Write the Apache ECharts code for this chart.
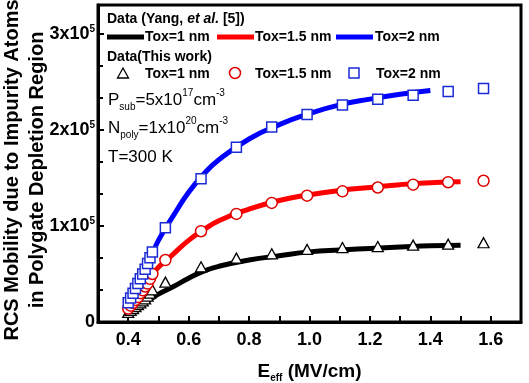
<!DOCTYPE html>
<html><head><meta charset="utf-8">
<script src="https://cdn.jsdelivr.net/npm/echarts@6/dist/echarts.min.js"></script>
<style>html,body{margin:0;padding:0;background:#fff}#c{width:529px;height:383px}</style>
</head><body><div id="c"></div>
<script>
// Model curves (Yang et al. [5])
var modelE = [0.40,0.42,0.44,0.46,0.48,0.50,0.55,0.60,0.65,0.70,0.80,0.90,1.00,1.10,1.20,1.30,1.40,1.50];
var yangTox1  = [0.07,0.12,0.17,0.21,0.25,0.29,0.37,0.455,0.53,0.58,0.645,0.69,0.73,0.75,0.765,0.78,0.795,0.80];
var yangTox15 = [0.12,0.22,0.31,0.40,0.49,0.57,0.71,0.85,0.96,1.055,1.175,1.265,1.325,1.37,1.40,1.43,1.45,1.46];
var yangTox2  = [0.15,0.30,0.44,0.58,0.71,0.85,1.11,1.35,1.54,1.69,1.905,2.055,2.17,2.26,2.32,2.37,2.41,null];
// This work
var workE = [0.400,0.408,0.416,0.424,0.432,0.440,0.448,0.456,0.464,0.472,0.480,0.523,0.641,0.758,0.875,0.992,1.109,1.226,1.343,1.459,1.576];
var workTox1  = [0.10,0.12,0.14,0.16,0.18,0.20,0.22,0.24,0.27,0.30,0.335,0.415,0.575,0.665,0.71,0.755,0.775,0.785,0.80,0.81,0.825];
var workTox15 = [0.14,0.17,0.20,0.23,0.26,0.30,0.33,0.37,0.40,0.45,0.50,0.645,0.945,1.125,1.24,1.315,1.36,1.40,1.43,1.455,1.47];
var workTox2  = [0.20,0.25,0.30,0.35,0.40,0.45,0.50,0.55,0.61,0.67,0.73,0.98,1.49,1.82,2.03,2.16,2.26,2.32,2.36,2.40,2.43];
var scale = 1e5;
var yTitle = ['RCS Mobility due to Impurity Atoms', 'in Polygate Depletion Region'];

var FF = 'Arial, "Liberation Sans", sans-serif';
function pairs(xs, ys){ var o=[]; for(var i=0;i<xs.length;i++){ if(ys[i]!=null) o.push([xs[i], ys[i]*scale]); } return o; }

var chart = echarts.init(document.getElementById('c'));
var lineW = 5;
chart.setOption({
  animation:false,
  backgroundColor:'#fff',
  grid:{left:98, top:5, right:8, bottom:61, show:true, borderColor:'#000', borderWidth:3, containLabel:false, outerBoundsMode:'none'},
  xAxis:{type:'value', min:0.3, max:1.7, interval:0.1,
    axisLine:{lineStyle:{color:'#000', width:3}},
    axisTick:{inside:true, length:6, lineStyle:{width:2,color:'#000'}},
    splitLine:{show:false},
    axisLabel:{margin:9, color:'#000', fontFamily:FF, fontWeight:'bold', fontSize:18,
      formatter:function(v){ var k=Math.round(v*10); return (k%2===0 && k>=4 && k<=16) ? (k/10).toFixed(1) : ''; }},
    name:'{m|E}{s|eff}{m| (MV/cm)}', nameLocation:'middle', nameGap:39, nameMoveOverlap:false,
    nameTextStyle:{color:'#000', rich:{m:{fontFamily:FF,fontWeight:'bold',fontSize:19,color:'#000',lineHeight:22},
                                       s:{fontFamily:FF,fontWeight:'bold',fontSize:10,color:'#000',lineHeight:22,padding:[12,0,0,0]}}}
  },
  yAxis:{type:'value', min:0, max:330000, interval:100000,
    axisLine:{lineStyle:{color:'#000', width:3}},
    axisTick:{inside:true, length:6, lineStyle:{width:2,color:'#000'}},
    minorTick:{show:true, splitNumber:3, length:5, lineStyle:{width:2,color:'#000'}},
    splitLine:{show:false},
    axisLabel:{margin:3, color:'#000',
      formatter:function(v){ if(v===0) return '{a|0}'; if(v%100000===0) return '{a|'+(v/100000)+'x10}{s|5}'; return ''; },
      rich:{a:{fontFamily:FF,fontWeight:'bold',fontSize:18,color:'#000',lineHeight:20},
            s:{fontFamily:FF,fontWeight:'bold',fontSize:10,color:'#000',lineHeight:20,verticalAlign:'top'}}}
  },
  series:[
    {type:'line', name:'Yang Tox=1 nm', data:pairs(modelE,yangTox1), smooth:true, showSymbol:false, lineStyle:{color:'#000',width:lineW}, z:2},
    {type:'line', name:'Yang Tox=1.5 nm', data:pairs(modelE,yangTox15), smooth:true, showSymbol:false, lineStyle:{color:'#ff0000',width:lineW}, z:2},
    {type:'line', name:'Yang Tox=2 nm', data:pairs(modelE,yangTox2), smooth:true, showSymbol:false, lineStyle:{color:'#0000ff',width:lineW}, z:2},
    {type:'scatter', name:'Work Tox=1 nm', data:pairs(workE,workTox1), symbol:'triangle', symbolSize:[11,10],
      itemStyle:{color:'#fff', borderColor:'#000', borderWidth:1.3, opacity:1}, z:3},
    {type:'scatter', name:'Work Tox=1.5 nm', data:pairs(workE,workTox15), symbol:'circle', symbolSize:11,
      itemStyle:{color:'#fff', borderColor:'#e00000', borderWidth:1.5, opacity:1}, z:4},
    {type:'scatter', name:'Work Tox=2 nm', data:pairs(workE,workTox2), symbol:'rect', symbolSize:10,
      itemStyle:{color:'#fff', borderColor:'#1a2bd6', borderWidth:1.5, opacity:1}, z:5}
  ],
  graphic:[
    {type:'text', x:12, y:170, rotation:Math.PI/2, style:{text:yTitle[0], font:'bold 20px '+FF, fill:'#000', align:'center', verticalAlign:'middle'}},
    {type:'text', x:37, y:170, rotation:Math.PI/2, style:{text:yTitle[1], font:'bold 20px '+FF, fill:'#000', align:'center', verticalAlign:'middle'}},
    {type:'text', left:107, top:12, style:{text:'{b|Data (Yang, }{i|et al.}{b| [5])}', rich:{
      b:{fontFamily:FF,fontWeight:'bold',fontSize:14,fill:'#000'}, i:{fontFamily:FF,fontWeight:'bold',fontStyle:'italic',fontSize:14,fill:'#000'}}}},
    {type:'line', shape:{x1:107,y1:37,x2:144,y2:37}, style:{stroke:'#000',lineWidth:5}},
    {type:'text', x:145, y:37, style:{text:'Tox=1 nm', font:'bold 14px '+FF, fill:'#000', verticalAlign:'middle'}},
    {type:'line', shape:{x1:217,y1:37,x2:254,y2:37}, style:{stroke:'#ff0000',lineWidth:5}},
    {type:'text', x:255, y:37, style:{text:'Tox=1.5 nm', font:'bold 14px '+FF, fill:'#000', verticalAlign:'middle'}},
    {type:'line', shape:{x1:336,y1:37,x2:373,y2:37}, style:{stroke:'#0000ff',lineWidth:5}},
    {type:'text', x:375, y:37, style:{text:'Tox=2 nm', font:'bold 14px '+FF, fill:'#000', verticalAlign:'middle'}},
    {type:'text', x:107, y:57, style:{text:'Data(This work)', font:'bold 14px '+FF, fill:'#000', verticalAlign:'middle'}},
    {type:'polygon', shape:{points:[[123,68],[128.5,78],[117.5,78]]}, style:{fill:'#fff',stroke:'#000',lineWidth:1.3}},
    {type:'text', x:145, y:74, style:{text:'Tox=1 nm', font:'bold 14px '+FF, fill:'#000', verticalAlign:'middle'}},
    {type:'circle', shape:{cx:235,cy:73,r:5.5}, style:{fill:'#fff',stroke:'#e00000',lineWidth:1.5}},
    {type:'text', x:255, y:74, style:{text:'Tox=1.5 nm', font:'bold 14px '+FF, fill:'#000', verticalAlign:'middle'}},
    {type:'rect', shape:{x:349,y:68,width:10,height:10}, style:{fill:'#fff',stroke:'#1a2bd6',lineWidth:1.5}},
    {type:'text', x:376, y:74, style:{text:'Tox=2 nm', font:'bold 14px '+FF, fill:'#000', verticalAlign:'middle'}},
    {type:'text', left:108, top:88, style:{text:'{m|P}{b|sub}{m|=5x10}{p|17}{m|cm}{p|-3}', rich:{
      m:{fontFamily:FF,fontSize:17,fill:'#000',lineHeight:24,verticalAlign:'middle'},
      b:{fontFamily:FF,fontSize:10,fill:'#000',lineHeight:24,verticalAlign:'bottom'},
      p:{fontFamily:FF,fontSize:10,fill:'#000',lineHeight:24,verticalAlign:'top'}}}},
    {type:'text', left:108, top:116, style:{text:'{m|N}{b|poly}{m|=1x10}{p|20}{m|cm}{p|-3}', rich:{
      m:{fontFamily:FF,fontSize:17,fill:'#000',lineHeight:24,verticalAlign:'middle'},
      b:{fontFamily:FF,fontSize:10,fill:'#000',lineHeight:24,verticalAlign:'bottom'},
      p:{fontFamily:FF,fontSize:10,fill:'#000',lineHeight:24,verticalAlign:'top'}}}},
    {type:'text', x:108, y:157, style:{text:'T=300 K', font:'17px '+FF, fill:'#000', verticalAlign:'middle'}}
  ]
});
</script></body></html>
